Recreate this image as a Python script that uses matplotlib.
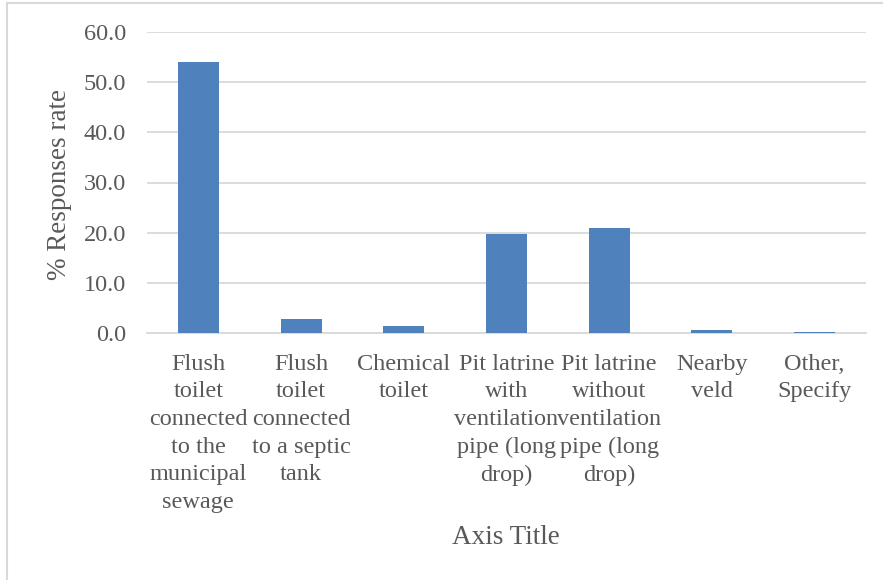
import matplotlib
matplotlib.use("Agg")
import matplotlib.pyplot as plt
from matplotlib.lines import Line2D

categories = [
    "Flush\ntoilet\nconnected\nto the\nmunicipal\nsewage",
    "Flush\ntoilet\nconnected\nto a septic\ntank",
    "Chemical\ntoilet",
    "Pit latrine\nwith\nventilation\npipe (long\ndrop)",
    "Pit latrine\nwithout\nventilation\npipe (long\ndrop)",
    "Nearby\nveld",
    "Other,\nSpecify",
]
values = [54.0, 2.8, 1.4, 19.8, 20.9, 0.6, 0.2]
yticks = [0, 10, 20, 30, 40, 50, 60]

plt.rcParams['font.family'] = ['Liberation Serif', 'DejaVu Serif']
text_color = "#595959"
grid_color = "#D9D9D9"
bar_color = "#4F81BD"

W, H = 883, 580
fig = plt.figure(figsize=(W / 100, H / 100), dpi=100)
ax = fig.add_axes([147 / W, 1 - 333 / H, (866 - 147) / W, (333 - 32) / H])

x = list(range(len(categories)))
ax.bar(x, values, width=0.4, color=bar_color, zorder=3)
ax.set_xlim(-0.5, len(categories) - 0.5)
ax.set_ylim(0, 60)
ax.set_yticks(yticks)
ax.set_yticklabels([f"{v:.1f}" for v in yticks])
ax.set_xticks(x)
ax.set_xticklabels(categories, linespacing=1.41)
ax.tick_params(axis='both', length=0, colors=text_color, labelsize=17.5)
ax.tick_params(axis='x', pad=15)
ax.tick_params(axis='y', pad=15)
for lbl in ax.get_xticklabels():
    lbl.set_verticalalignment('top')
ax.grid(axis='y', color=grid_color, linewidth=1.3, zorder=0)
for s in ['top', 'right', 'left']:
    ax.spines[s].set_visible(False)
ax.spines['bottom'].set_color(grid_color)
ax.spines['bottom'].set_linewidth(1.3)

ax.set_ylabel("% Responses rate", fontsize=19.5, color=text_color, va='center', ha='center')
ax.yaxis.set_label_coords((60 - 147) / 719, (333 - 184) / 301)
ax.set_xlabel("Axis Title", fontsize=19.5, color=text_color, va='center', ha='center')
ax.xaxis.set_label_coords((506 - 147) / 719, (333 - 537) / 301)

# chart frame (left and top edges visible)
fig.add_artist(Line2D([7 / W, 7 / W], [0, 1 - 3 / H], color=grid_color, linewidth=1.5, transform=fig.transFigure))
fig.add_artist(Line2D([7 / W, 1], [1 - 3 / H, 1 - 3 / H], color=grid_color, linewidth=1.5, transform=fig.transFigure))

fig.savefig("out.png", dpi=100, facecolor="white")
